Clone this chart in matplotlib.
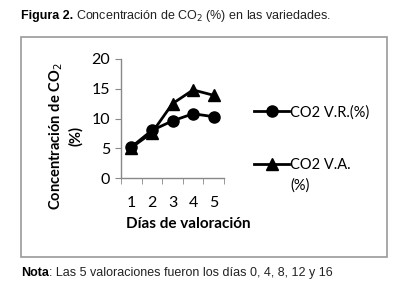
import matplotlib
matplotlib.use("Agg")
import matplotlib.pyplot as plt
from matplotlib.patches import Rectangle

categories = ["1", "2", "3", "4", "5"]
co2_vr = [5.2, 8.0, 9.6, 10.8, 10.3]
co2_va = [5.1, 7.6, 12.5, 14.8, 13.9]
yticks = [0, 5, 10, 15, 20]

W, H = 416, 301
fig = plt.figure(figsize=(W / 100, H / 100), dpi=100)
fig.patch.set_facecolor("white")

def fx(x):
    return x / W

def fy(y):
    return 1 - y / H

cap_font = ["Liberation Sans Narrow", "Liberation Sans", "DejaVu Sans"]
lab_font = ["Lato", "DejaVu Sans"]

# frame box
fig.patches.append(Rectangle((fx(20.5), fy(257)), fx(387) - fx(20.5), fy(37) - fy(257),
                             transform=fig.transFigure, fill=False, edgecolor="#9a9a9a", lw=1.2))

ax = fig.add_axes([fx(121), fy(178), fx(224) - fx(121), fy(59) - fy(178)])
x = list(range(len(categories)))
ax.plot(x, co2_vr, color="black", lw=2, marker="o", ms=8, label="CO2 V.R.(%)")
ax.plot(x, co2_va, color="black", lw=2, marker="^", ms=8, label="CO2 V.A.")

ax.set_xlim(-0.5, len(categories) - 0.5)
ax.set_ylim(0, 20)
ax.set_yticks(yticks)
ax.set_xticks(x)
ax.set_xticklabels(categories)
ax.set_xticks([i - 0.5 for i in range(len(categories) + 1)], minor=True)
ax.tick_params(axis="x", which="major", length=0, pad=13, labelsize=11.5)
ax.tick_params(axis="x", which="minor", length=4, direction="out", color="#888888")
ax.tick_params(axis="y", length=4, direction="out", color="#888888", labelsize=11.5, pad=4)
for lab in ax.get_xticklabels() + ax.get_yticklabels():
    lab.set_family(lab_font)
for s in ["top", "right"]:
    ax.spines[s].set_visible(False)
for s in ["left", "bottom"]:
    ax.spines[s].set_color("#888888")
    ax.spines[s].set_linewidth(1)

# axis titles
fig.text(fx(188), fy(224), "Días de valoración", fontsize=11, fontweight="bold", family=lab_font,
         ha="center", va="center")
fig.text(fx(65), fy(136), "Concentración de CO$_2$\n(%)", fontsize=10.5, fontweight="bold",
         family=lab_font, ha="center", va="center", rotation=90, linespacing=1.35,
         multialignment="center")

leg = ax.legend(loc="upper left", bbox_to_anchor=(fx(254), fy(105)), bbox_transform=fig.transFigure,
                frameon=False, prop={"family": lab_font, "size": 10.5},
                handlelength=2.4, handletextpad=0.1, labelspacing=2.65, borderaxespad=0, borderpad=0)
fig.canvas.draw()
renderer = fig.canvas.get_renderer()
tx0 = leg.get_texts()[1].get_window_extent(renderer).x0
fig.text(tx0 / W, fy(186), "(%)", fontsize=10.5, family=lab_font, va="center", ha="left")

# caption texts
t1 = fig.text(fx(21), fy(16), "Figura 2.", fontsize=9, fontweight="bold", va="center", ha="left",
              family=cap_font)
bb = t1.get_window_extent(renderer)
fig.text(bb.x1 / W + fx(3), fy(16), "Concentración de CO$_2$ (%) en las variedades.", fontsize=9,
         va="center", ha="left", family=cap_font, color="#222222")
t2 = fig.text(fx(21), fy(273), "Nota", fontsize=9, fontweight="bold", va="center", ha="left",
              family=cap_font)
bb2 = t2.get_window_extent(renderer)
fig.text(bb2.x1 / W, fy(273), ": Las 5 valoraciones fueron los días 0, 4, 8, 12 y 16", fontsize=9,
         va="center", ha="left", family=cap_font, color="#222222")

fig.savefig("out.png", dpi=100)
